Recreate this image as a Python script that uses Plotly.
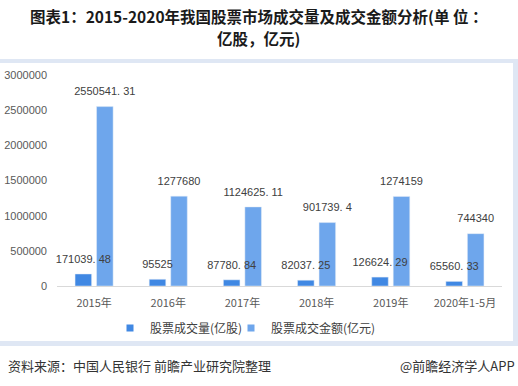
import plotly.graph_objects as go

categories = ["2015年", "2016年", "2017年", "2018年", "2019年", "2020年1-5月"]
volume = [171039.48, 95525, 87780.84, 82037.25, 126624.29, 65560.33]
amount = [2550541.31, 1277680, 1124625.11, 901739.4, 1274159, 744340]
series_names = ["股票成交量(亿股)", "股票成交金额(亿元)"]
y_ticks = [0, 500000, 1000000, 1500000, 2000000, 2500000, 3000000]

c_dark = "#4088e3"
c_light = "#6ea6ec"
font_cjk = "Noto Sans CJK SC, Noto Sans, sans-serif"
font_num = "Liberation Sans, Arial, sans-serif"

W, H = 518, 386
L, R, T, B = 57, 16, 75, 100
PW, PH = W - L - R, H - T - B


def px_x(x):
    return (x - L) / PW


def px_y(y):
    return (H - B - y) / PH


def fmt(v):
    s = ("%.2f" % v).rstrip("0").rstrip(".")
    return s.replace(".", ". ")


fig = go.Figure()
for vals, col, g in [(volume, c_dark, "a"), (amount, c_light, "b")]:
    fig.add_trace(go.Bar(
        x=categories, y=vals, marker_color=col, showlegend=False,
        offsetgroup=g, hoverinfo="skip",
    ))
for vals, g in [(volume, "a"), (amount, "b")]:
    fig.add_trace(go.Scatter(
        x=categories, y=vals, mode="markers+text", offsetgroup=g,
        text=[fmt(v) for v in vals], textposition="top center",
        marker=dict(size=12, opacity=0), cliponaxis=False, showlegend=False,
        textfont=dict(size=11, color="#404040", family=font_num),
        hoverinfo="skip",
    ))
legend_x = [141, 262]
for i, (name, col) in enumerate(zip(series_names, [c_dark, c_light])):
    fig.add_trace(go.Scatter(
        x=[None], y=[None], mode="markers", name=name,
        legend="legend" if i == 0 else "legend2",
        marker=dict(symbol="square", size=7, color=col),
    ))

# panel frame (light band on top, right and bottom)
band = "#dfe7f4"
for x0, x1, y0, y1 in [(0, 518, 59, 63), (513, 518, 59, 346), (0, 518, 341, 346)]:
    fig.add_shape(type="rect", xref="paper", yref="paper", layer="below",
                  x0=px_x(x0), x1=px_x(x1), y0=px_y(y1), y1=px_y(y0),
                  fillcolor=band, line_width=0)

leg_common = dict(orientation="h", xanchor="left", yanchor="middle", y=px_y(328),
                  font=dict(size=12, color="#404040"), itemwidth=30,
                  bgcolor="rgba(0,0,0,0)")

fig.update_layout(
    width=W, height=H,
    margin=dict(l=L, r=R, t=T, b=B, autoexpand=False),
    paper_bgcolor="white", plot_bgcolor="rgba(0,0,0,0)",
    font=dict(family=font_cjk, color="#595959", size=12),
    barmode="group", bargap=0.42, bargroupgap=0.23,
    scattermode="group", scattergap=0.42,
    legend=dict(x=px_x(legend_x[0] - 31), **leg_common),
    legend2=dict(x=px_x(legend_x[1] - 31), **leg_common),
    xaxis=dict(showgrid=False, showline=True, linecolor="#d9d9d9", linewidth=1,
               ticks="", tickfont=dict(size=11, color="#595959"),
               ticklabelstandoff=7, automargin=False),
    yaxis=dict(range=[0, 3000000], tickvals=y_ticks,
               ticktext=[str(v) for v in y_ticks],
               showgrid=False, zeroline=False, showline=False,
               tickfont=dict(size=11, color="#595959", family=font_num),
               ticklabelstandoff=9, automargin=False),
)

title_lines = ["<b>图表1：2015-2020年我国股票市场成交量及成交金额分析(单 位 ：</b>",
               "<b>亿股，亿元)</b>"]
for txt, yy in zip(title_lines, [16, 38]):
    fig.add_annotation(text=txt, xref="paper", yref="paper", x=px_x(258), xanchor="center",
                       y=px_y(yy), yanchor="middle", showarrow=False,
                       font=dict(size=15.5, color="#1a1a1a", family=font_cjk))
fig.add_annotation(text="资料来源：中国人民银行 前瞻产业研究院整理", xref="paper", yref="paper",
                   x=px_x(6), xanchor="left", y=px_y(365), yanchor="middle",
                   showarrow=False, font=dict(size=13, color="#333333"))
fig.add_annotation(text="@前瞻经济学人APP", xref="paper", yref="paper",
                   x=px_x(517), xanchor="right", y=px_y(365), yanchor="middle",
                   showarrow=False, font=dict(size=13, color="#333333"))

fig.write_html("out.html", config={"displayModeBar": False},
               post_script="document.body.style.margin='0';")
